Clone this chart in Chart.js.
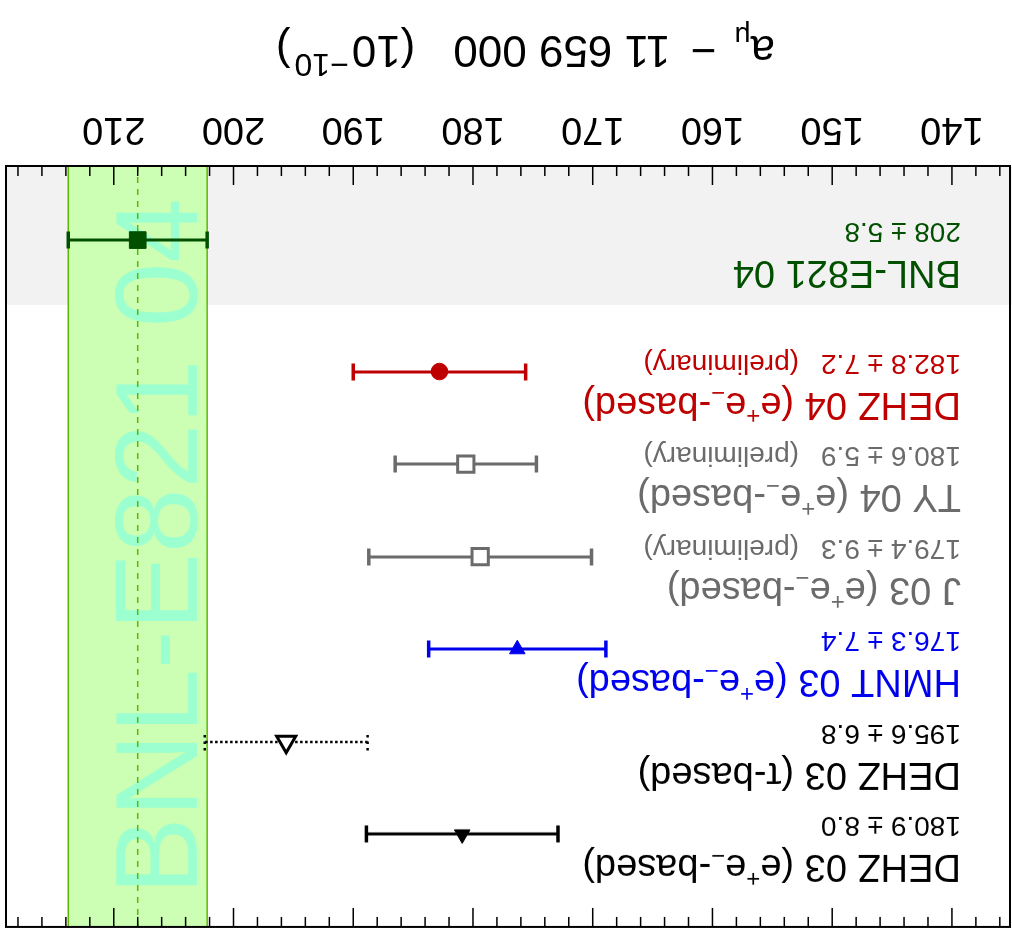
<!DOCTYPE html>
<html>
<head>
<meta charset="utf-8">
<script src="https://cdn.jsdelivr.net/npm/chart.js@4.4.1/dist/chart.umd.min.js"></script>
<style>
  html, body { margin: 0; padding: 0; background: #fff; }
  #marco { width: 1012px; height: 933px; transform: rotate(180deg); }
</style>
</head>
<body>
<div id="marco"><canvas id="graficoAmu" width="1012" height="933"></canvas></div>
<script>
// ^x = superíndice, _x = subíndice (un carácter)
const nombres = [
  'DEHZ 03 (e^+e_−-based)',
  'DEHZ 03 (τ-based)',
  'HMNT 03 (e^+e_−-based)',
  'J 03 (e^+e_−-based)',
  'TY 04 (e^+e_−-based)',
  'DEHZ 04 (e^+e_−-based)',
  'BNL-E821 04'
];
const valores = [180.9, 195.6, 176.3, 179.4, 180.6, 182.8, 208];
const errores = [8.0, 6.8, 7.4, 9.3, 5.9, 7.2, 5.8];
const preliminar = [false, false, false, true, true, true, false];
const tickLabels = [140, 150, 160, 170, 180, 190, 200, 210];
const referencia = 6; // índice de la medida experimental

// estilos
const FUENTE = '"Liberation Sans", Arial, Helvetica, sans-serif';
const colores = ['#000000', '#000000', '#0000f0', '#6b6b6b', '#6b6b6b', '#bf0000', '#005000'];
const estilos = ['triangle', 'triangle', 'triangle', 'rect', 'rect', 'circle', 'rect'];
const rotaciones = [0, 0, 180, 0, 0, 0, 0];
const radios = [9, 11, 9, 11.5, 11.5, 8.3, 11.8];
const rellenos = ['#000000', '#ffffff', '#0000f0', '#ffffff', '#ffffff', '#bf0000', '#005000'];
const bordes = [1, 3, 1, 3, 3, 1, 1];
const grosores = [3, 2.5, 3, 3, 3, 3, 3];
const punteado = [false, true, false, false, false, false, false];
const filaY = i => (i === referencia ? 7.42 : i + 1);
const FRANJA_GRIS = 6.72;

function fmt(v) { return Number.isInteger(v) ? String(v) : v.toFixed(1); }

// texto con super/subíndices sencillos
function trozos(texto) {
  const out = [];
  let buf = '';
  for (let i = 0; i < texto.length; i++) {
    const c = texto[i];
    if ((c === '^' || c === '_') && i + 1 < texto.length) {
      if (buf) { out.push({ t: buf, k: 0 }); buf = ''; }
      out.push({ t: texto[i + 1], k: c === '^' ? 1 : -1 });
      i++;
    } else buf += c;
  }
  if (buf) out.push({ t: buf, k: 0 });
  return out;
}

function dibujarRico(ctx, texto, x, y, size) {
  let cx = x;
  trozos(texto).forEach(p => {
    const s = p.k ? Math.round(size * 0.62) : size;
    ctx.font = s + 'px ' + FUENTE;
    const dy = p.k === 1 ? -size * 0.42 : (p.k === -1 ? size * 0.2 : 0);
    ctx.fillText(p.t, cx, y + dy);
    cx += ctx.measureText(p.t).width;
  });
}

const fondo = {
  id: 'fondo',
  beforeDatasetsDraw(chart) {
    const { ctx, chartArea: a, scales: { x, y } } = chart;
    ctx.save();
    // franja gris de la medida experimental
    const yb = y.getPixelForValue(FRANJA_GRIS);
    ctx.fillStyle = '#f2f2f2';
    ctx.fillRect(0, yb, a.right, a.bottom - yb);

    // banda de ±1σ
    const ref = valores[referencia], err = errores[referencia];
    const x1 = x.getPixelForValue(ref - err), x2 = x.getPixelForValue(ref + err);
    ctx.fillStyle = '#ccffb3';
    ctx.fillRect(x1, a.top, x2 - x1, a.bottom - a.top);
    ctx.strokeStyle = '#5cb800';
    ctx.lineWidth = 1.5;
    [x1, x2].forEach(px => {
      ctx.beginPath(); ctx.moveTo(px, a.top); ctx.lineTo(px, a.bottom); ctx.stroke();
    });

    // rótulo vertical dentro de la banda
    ctx.save();
    ctx.translate(x1 + 10, (a.top + a.bottom) / 2);
    ctx.rotate(Math.PI / 2);
    ctx.fillStyle = 'rgb(156,255,208)';
    ctx.font = '116px ' + FUENTE;
    ctx.textAlign = 'center';
    ctx.textBaseline = 'alphabetic';
    ctx.fillText(nombres[referencia], 0, 0);
    ctx.restore();

    // valor central
    const xc = x.getPixelForValue(ref);
    ctx.strokeStyle = '#5cb800';
    ctx.setLineDash([6, 6]);
    ctx.beginPath(); ctx.moveTo(xc, a.top); ctx.lineTo(xc, a.bottom); ctx.stroke();

    // barras de error
    valores.forEach((v, i) => {
      const yy = Math.round(y.getPixelForValue(filaY(i)));
      const xa = x.getPixelForValue(v - errores[i]);
      const xb = x.getPixelForValue(v + errores[i]);
      ctx.strokeStyle = colores[i];
      ctx.lineWidth = grosores[i];
      ctx.setLineDash(punteado[i] ? [2.5, 2.5] : []);
      ctx.beginPath(); ctx.moveTo(xa, yy); ctx.lineTo(xb, yy); ctx.stroke();
      ctx.lineWidth = punteado[i] ? 2.5 : grosores[i] + 0.5;
      ctx.setLineDash(punteado[i] ? [2.5, 4] : []);
      [xa, xb].forEach(px => {
        ctx.beginPath(); ctx.moveTo(px, yy - 8.5); ctx.lineTo(px, yy + 8.5); ctx.stroke();
      });
    });
    ctx.restore();
  },
  afterDatasetsDraw(chart) {
    const { ctx, chartArea: a, scales: { x, y } } = chart;
    ctx.save();
    ctx.textBaseline = 'alphabetic';
    ctx.textAlign = 'left';

    // etiquetas de cada medida
    const lx = x.getPixelForValue(139.25);
    nombres.forEach((n, i) => {
      const yy = y.getPixelForValue(filaY(i));
      ctx.fillStyle = colores[i];
      dibujarRico(ctx, n, lx, yy - 21, 38);
      const t = fmt(valores[i]) + ' ± ' + errores[i].toFixed(1);
      ctx.font = '28px ' + FUENTE;
      ctx.fillText(t, lx, yy + 17);
      if (preliminar[i]) {
        const w = ctx.measureText(t).width;
        ctx.fillText('(preliminary)', lx + w + 22, yy + 17);
      }
    });

    // marco y marcas del eje
    ctx.strokeStyle = '#000';
    ctx.lineWidth = 2;
    ctx.strokeRect(a.left, a.top, a.right - a.left, a.bottom - a.top);
    ctx.lineWidth = 1.5;
    for (let v = 136; v <= 218; v += 2) {
      const px = x.getPixelForValue(v);
      const len = v % 10 === 0 ? 19 : 10;
      ctx.beginPath();
      ctx.moveTo(px, a.bottom); ctx.lineTo(px, a.bottom - len);
      ctx.moveTo(px, a.top); ctx.lineTo(px, a.top + len);
      ctx.stroke();
    }

    ctx.fillStyle = '#000';
    ctx.textAlign = 'center';
    ctx.font = '38px ' + FUENTE;
    tickLabels.forEach(v => ctx.fillText(String(v), x.getPixelForValue(v), a.bottom + 48));

    // título del eje
    const partes = [
      { t: 'a', s: 44, dy: 0, gap: 0 },
      { t: 'μ', s: 28, dy: 9, gap: 0 },
      { t: ' − ', s: 44, dy: 0, gap: 6 },
      { t: '11 659 000', s: 44, dy: 0, gap: 8 },
      { t: '(10', s: 44, dy: 0, gap: 38 },
      { t: '−10', s: 32, dy: -18, gap: 3 },
      { t: ')', s: 44, dy: 0, gap: 4 }
    ];
    ctx.textAlign = 'left';
    let cx = 237;
    partes.forEach(p => {
      ctx.font = p.s + 'px ' + FUENTE;
      cx += p.gap;
      ctx.fillText(p.t, cx, a.bottom + 130 + p.dy);
      cx += ctx.measureText(p.t).width;
    });
    ctx.restore();
  }
};

new Chart(document.getElementById('graficoAmu'), {
  type: 'scatter',
  data: {
    datasets: valores.map((v, i) => ({
      label: nombres[i],
      data: [{ x: v, y: filaY(i) }],
      pointStyle: estilos[i],
      rotation: rotaciones[i],
      radius: radios[i],
      backgroundColor: rellenos[i],
      borderColor: colores[i],
      borderWidth: bordes[i]
    }))
  },
  options: {
    responsive: false,
    animation: false,
    events: [],
    layout: { autoPadding: false, padding: { left: 2, top: 6, right: 6, bottom: 166 } },
    scales: {
      x: { type: 'linear', min: 135.15, max: 219, display: false },
      y: { type: 'linear', min: 0, max: 8.22, reverse: true, display: false }
    },
    plugins: { legend: { display: false }, tooltip: { enabled: false } }
  },
  plugins: [fondo]
});
</script>
</body>
</html>
